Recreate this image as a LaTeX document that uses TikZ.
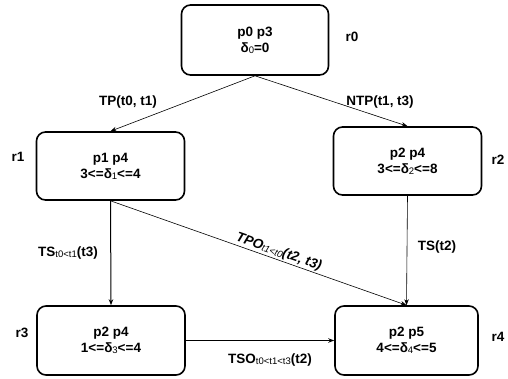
\documentclass[tikz,border=0pt]{standalone}
\usepackage{fontspec}
\setmainfont{Liberation Sans}
\usetikzlibrary{arrows.meta,positioning}
\newcommand{\lowidx}[1]{\raisebox{-1pt}{\fontsize{9.5}{10}\selectfont\mdseries #1}}
\tikzset{
  state/.style={draw, rounded corners=9pt, line width=1.6pt, minimum width=148pt,
               minimum height=68pt, align=center, inner sep=0pt,
               font=\fontsize{13.5}{16}\selectfont\bfseries},
  tag/.style={font=\fontsize{13.5}{15}\selectfont\bfseries, inner sep=1pt},
  flow/.style={-{Stealth[length=6pt,width=4.5pt]}, line width=0.6pt},
  heavy/.style={flow, line width=1pt},
}
\begin{document}
\begin{tikzpicture}[x=1pt,y=-1pt]
  \useasboundingbox (0,0) rectangle (508,378);
  % states
  \node[state, minimum width=147pt, minimum height=70pt] (r0) at (255,40) {p0 p3\\ δ\lowidx{0}=0};
  \node[state] (r1) at (110.5,166) {p1 p4\\ 3<=δ\lowidx{1}<=4};
  \node[state] (r2) at (407.5,161) {p2 p4\\ 3<=δ\lowidx{2}<=8};
  \node[state, minimum height=69pt] (r3) at (111,340.5) {p2 p4\\ 1<=δ\lowidx{3}<=4};
  \node[state, minimum width=143pt, minimum height=69pt] (r4) at (406.5,340.5) {p2 p5\\ 4<=δ\lowidx{4}<=5};
  % region names
  \node[tag] (n0) at (352,37) {r0};
  \node[tag] (n1) at (18,157) {r1};
  \node[tag] (n2) at (498,160) {r2};
  \node[tag] (n3) at (22,333) {r3};
  \node[tag] (n4) at (498,337) {r4};
  % transitions
  \draw[flow] (r0.south) -- (r1.north);
  \draw[flow] (r0.south) -- (r2.north);
  \draw[heavy] (r1.south) -- (r3.north);
  \draw[flow] (r2.south) -- (r4.north);
  \draw[flow] (r1.south) -- (r4.north)
    node[tag, sloped, above, pos=0.56, font=\fontsize{13.5}{15}\selectfont\bfseries\itshape]
      (tpo) {TPO\lowidx{\itshape t1<t0}(t2, t3)};
  \draw[heavy] (r3.east) -- (r4.west);
  \node[tag] (tp) at (128,102) {TP(t0, t1)};
  \node[tag] (ntp) at (380,102) {NTP(t1, t3)};
  \node[tag] (ts1) at (68,253) {TS\lowidx{t0<t1}(t3)};
  \node[tag] (ts2) at (437,247) {TS(t2)};
  \node[tag] (tso) at (270,360) {TSO\lowidx{t0<t1<t3}(t2)};
\end{tikzpicture}
\end{document}
